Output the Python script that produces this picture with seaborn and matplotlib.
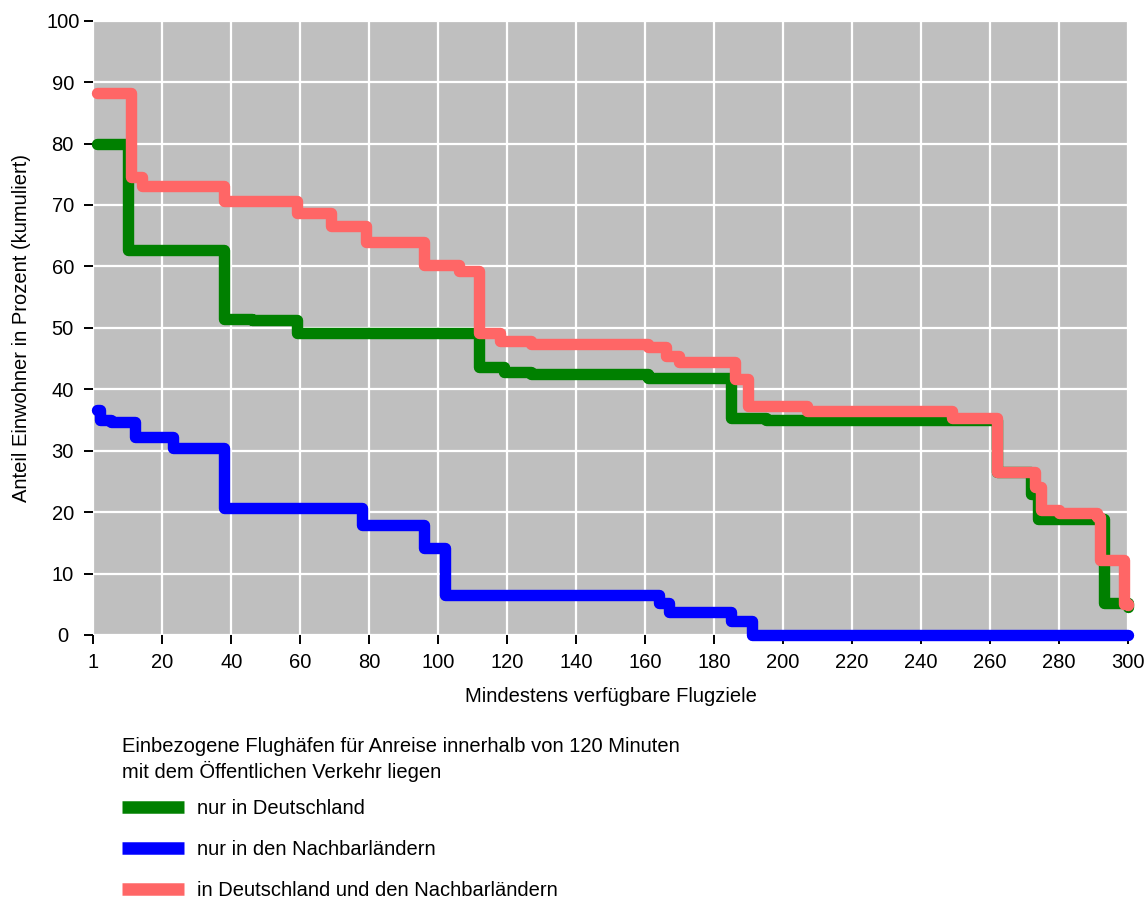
import matplotlib
matplotlib.use("Agg")
import matplotlib.pyplot as plt
import seaborn as sns
import pandas as pd

# --- data (step breakpoints) ---
de_x = [1, 10, 38, 46, 59, 112, 119, 127, 161, 185, 195, 262, 272, 274, 293, 300]
de_y = [80.0, 62.6, 51.5, 51.2, 49.2, 43.7, 42.8, 42.5, 41.8, 35.3, 35.0, 26.6, 23.0, 18.8, 5.2, 4.6]

nb_x = [1, 2, 5, 12, 23, 38, 72, 78, 96, 102, 164, 167, 185, 191, 300]
nb_y = [36.7, 35.0, 34.6, 32.3, 30.4, 20.7, 20.6, 17.9, 14.1, 6.5, 5.2, 3.8, 2.2, 0.0, 0.0]

both_x = [1, 11, 14, 38, 59, 69, 79, 96, 106, 112, 118, 127, 161, 166, 170, 186, 190,
          207, 249, 262, 273, 275, 280, 291, 292, 299, 300]
both_y = [88.3, 74.5, 73.1, 70.6, 68.7, 66.6, 64.0, 60.3, 59.2, 49.2, 47.8, 47.3, 46.9,
          45.4, 44.5, 41.6, 37.2, 36.4, 35.3, 26.6, 24.1, 20.3, 19.8, 19.2, 12.2, 5.1, 4.8]

labels = ["nur in Deutschland", "nur in den Nachbarländern",
          "in Deutschland und den Nachbarländern"]
colors = ["#008000", "#0000FF", "#FF6666"]
x_tick_pos = [0, 20, 40, 60, 80, 100, 120, 140, 160, 180, 200, 220, 240, 260, 280, 300]
x_tick_labels = ["1", "20", "40", "60", "80", "100", "120", "140", "160", "180",
                 "200", "220", "240", "260", "280", "300"]
y_ticks = [0, 10, 20, 30, 40, 50, 60, 70, 80, 90, 100]

sns.set_style("whitegrid", {
    "axes.facecolor": "#BFBFBF",
    "grid.color": "white",
    "axes.edgecolor": "#BFBFBF",
    "text.color": "black",
    "axes.labelcolor": "black",
    "xtick.color": "black",
    "ytick.color": "black",
})
plt.rcParams["font.family"] = ["Liberation Sans", "DejaVu Sans"]

fig = plt.figure(figsize=(11.46, 9.0), dpi=100)
ax = fig.add_axes([0.0814, 0.2945, 0.9026, 0.6825])

series = [(de_x, de_y), (nb_x, nb_y), (both_x, both_y)]
for (xs, ys), lab, col in zip(series, labels, colors):
    df = pd.DataFrame({"x": xs, "y": ys})
    sns.lineplot(data=df, x="x", y="y", ax=ax, color=col, label=lab,
                 estimator=None, sort=False, drawstyle="steps-post",
                 linewidth=8.2, solid_capstyle="round", solid_joinstyle="round",
                 clip_on=False)

ax.set_xlim(0, 300)
ax.set_ylim(0, 100)
ax.set_xticks(x_tick_pos)
ax.set_xticklabels(x_tick_labels)
ax.set_yticks(y_ticks)
ax.grid(True, color="white", linewidth=1.6)
for s in ax.spines.values():
    s.set_visible(False)
ax.tick_params(axis="both", which="both", direction="out", length=6.5, width=1.4,
               color="black", labelcolor="black", labelsize=14.5,
               bottom=True, left=True)
ax.tick_params(axis="x", pad=6.3)
ax.tick_params(axis="y", pad=15.5)
for t in ax.get_yticklabels():
    t.set_horizontalalignment("center")
ax.set_xlabel("Mindestens verfügbare Flugziele", fontsize=14.5, labelpad=11)
ax.set_ylabel("Anteil Einwohner in Prozent (kumuliert)", fontsize=14.5, labelpad=11)

handles, labs = ax.get_legend_handles_labels()
ax.get_legend().remove()
leg = fig.legend(handles, labs, loc="upper left", bbox_to_anchor=(0.1065, 0.1807),
                 frameon=False, fontsize=14.5, title_fontsize=14.5,
                 title="Einbezogene Flughäfen für Anreise innerhalb von 120 Minuten\nmit dem Öffentlichen Verkehr liegen",
                 alignment="left", handlelength=3.1, handletextpad=0.6,
                 labelspacing=1.1, borderaxespad=0, borderpad=0)
leg.get_title().set_linespacing(1.25)
leg._legend_box.sep = 12.4
for h in leg.legend_handles:
    h.set_linewidth(9)
    h.set_solid_capstyle("butt")

fig.savefig("out.png", dpi=100)
